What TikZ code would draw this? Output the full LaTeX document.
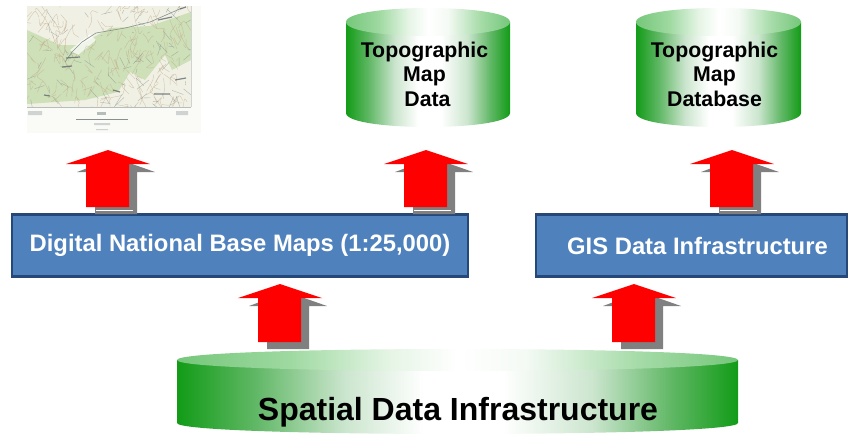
\documentclass[tikz,border=0pt]{standalone}
\usepackage{fontspec}
\setmainfont{Liberation Sans}
\definecolor{cylgreen}{RGB}{18,155,22}
\definecolor{cyltop}{RGB}{118,200,122}
\definecolor{boxblue}{RGB}{79,129,189}
\definecolor{boxedge}{RGB}{37,72,120}
\definecolor{shadowgray}{RGB}{128,128,128}
\definecolor{mapgreen}{RGB}{205,224,184}
\definecolor{mappale}{RGB}{240,241,228}
\definecolor{maptan}{RGB}{195,170,140}
\definecolor{mapgray}{RGB}{135,145,142}
\definecolor{mapdark}{RGB}{100,105,110}
\pgfdeclarehorizontalshading{cylbody}{100bp}{
  rgb(0bp)=(0.07,0.61,0.09); rgb(25bp)=(0.07,0.61,0.09);
  rgb(32bp)=(0.38,0.72,0.40); rgb(40bp)=(0.80,0.90,0.81);
  rgb(47bp)=(1,1,1); rgb(54bp)=(1,1,1);
  rgb(62bp)=(0.80,0.90,0.81); rgb(69bp)=(0.38,0.72,0.40);
  rgb(75bp)=(0.07,0.61,0.09); rgb(100bp)=(0.07,0.61,0.09)}
\pgfdeclarehorizontalshading{cyllid}{100bp}{
  rgb(0bp)=(0.46,0.78,0.48); rgb(25bp)=(0.46,0.78,0.48);
  rgb(35bp)=(0.62,0.85,0.63); rgb(44bp)=(0.90,0.96,0.90);
  rgb(50bp)=(1,1,1); rgb(56bp)=(0.96,0.98,0.96);
  rgb(66bp)=(0.65,0.86,0.66);
  rgb(75bp)=(0.46,0.78,0.48); rgb(100bp)=(0.46,0.78,0.48)}
\newcommand{\cylinder}[5]{% left right topcentre bottomcentre ry
  \shade[shading=cylbody]
    (#1,#3) -- (#1,#4) .. controls (#1,#4+1.333*#5) and (#2,#4+1.333*#5) .. (#2,#4) -- (#2,#3) -- cycle;
  \shade[shading=cyllid]
    (#1,#3) .. controls (#1,#3-1.333*#5) and (#2,#3-1.333*#5) .. (#2,#3)
    .. controls (#2,#3+1.333*#5) and (#1,#3+1.333*#5) .. (#1,#3) -- cycle;
}
\newcommand{\uparrowblock}[3]{% centre-x tip-y bottom-y
  \fill[shadowgray] (#1+7,#2+8) -- (#1+47,#2+22) -- (#1+29,#2+22) -- (#1+29,#3+7) -- (#1-13,#3+7) -- (#1-13,#2+22) -- (#1-31,#2+22) -- cycle;
  \fill[red] (#1,#2) -- (#1+42,#2+14) -- (#1+21,#2+14) -- (#1+21,#3) -- (#1-22,#3) -- (#1-22,#2+14) -- (#1-42,#2+14) -- cycle;
}
\newcommand{\gapline}[1]{\fill[white] (#1-12,210.4) rectangle (#1+25,211.4);}
\tikzset{
  cyltext/.style={font=\fontsize{21.3}{24.5}\selectfont\bfseries,align=center,text=black},
  boxshape/.style={draw=boxedge,line width=2.2pt,fill=boxblue,text=white,inner sep=0pt,
    font=\fontsize{23.8}{28}\selectfont\bfseries},
  maproad/.style={line width=0.4pt,mapgray,opacity=0.6},
  mapcontour/.style={line width=0.4pt,maptan,opacity=0.6},
  maptown/.style={line width=1.2pt,mapdark,opacity=0.8}
}
\begin{document}
\begin{tikzpicture}[x=1pt,y=-1pt]
\useasboundingbox (0,0) rectangle (852,434);
% map
\fill[mappale!35!white] (27,6) rectangle (201,133);
\begin{scope}
\clip (27,6) rectangle (191,107);
\fill[mappale] (27,6) rectangle (191,107);
\fill[mapgreen] (27,30) -- (60,45) -- (80,45) -- (110,28) -- (150,26) -- (191,12) -- (191,60) -- (172,70) -- (165,55) -- (145,80) -- (130,72) -- (118,92) -- (85,100) -- (27,104) -- cycle;
\fill[white,opacity=0.7] (70,50) -- (90,34) -- (96,40) -- (78,55) -- cycle;
\pgfmathsetseed{17}
\foreach \i in {1,...,180}{
  \pgfmathsetmacro{\ax}{27+rnd*164}\pgfmathsetmacro{\ay}{6+rnd*101}
  \pgfmathsetmacro{\bx}{\ax+rnd*16-8}\pgfmathsetmacro{\by}{\ay+rnd*24-12}
  \pgfmathsetmacro{\cx}{\bx+rnd*16-8}\pgfmathsetmacro{\cy}{\by+rnd*24-12}
  \draw[mapcontour] plot[smooth] coordinates {(\ax,\ay) (\bx,\by) (\cx,\cy)};
}
\foreach \i in {1,...,80}{
  \pgfmathsetmacro{\ax}{27+rnd*164}\pgfmathsetmacro{\ay}{6+rnd*101}
  \pgfmathsetmacro{\bx}{\ax+rnd*24-12}\pgfmathsetmacro{\by}{\ay+rnd*24-12}
  \draw[maproad] (\ax,\ay) -- (\bx,\by);
}
\draw[line width=0.6pt,mapgray] (65,62) -- (72,52) -- (82,42) -- (96,33) -- (125,28) -- (150,22) -- (182,8);
\draw[maptown] (158,20) -- (172,17) (180,9) -- (186,7);
\draw[maptown] (66,58) -- (80,57) (62,67) -- (72,66) (113,90) -- (120,92) (154,94) -- (170,94) (175,80) -- (186,78) (44,95) -- (50,96);
\end{scope}
\draw[mapgray!60,line width=0.5pt] (27,107.5) -- (191,107.5);
\draw[mapgray!40,line width=0.4pt] (191,6) -- (191,107);
\draw[mapgray,line width=0.4pt] (76,119) -- (128,119);
\fill[mapgray!60] (97,112) rectangle (106,115);
\fill[mapgray!40] (94,123) rectangle (110,125) (96,129) rectangle (108,130);
\fill[mapgray!40] (28,111) rectangle (42,115) (176,111) rectangle (188,115);
% cylinders
\cylinder{346}{510}{22}{113}{14}
\cylinder{636}{801}{22}{113}{14}
\cylinder{177}{738}{360}{423}{11}
% boxes
\node[boxshape,minimum width=456pt,minimum height=62pt] (base) at (240,245.5) {Digital National Base Maps (1:25,000)};
\node[boxshape,minimum width=311pt,minimum height=62pt] (gis) at (691.5,245.5) {\hspace*{12pt}GIS Data Infrastructure};
% block arrows
\uparrowblock{108}{150}{207}\gapline{108}
\uparrowblock{426}{150}{207}\gapline{426}
\uparrowblock{732}{150}{207}\gapline{732}
\uparrowblock{280}{284}{342}
\uparrowblock{634}{284}{342}
% labels
\node[cyltext] (topodata) at (424.5,74) {Topographic\\Map\\\ Data};
\node[cyltext] (topodb) at (714.5,74) {Topographic\\Map\\Database};
\node[font=\fontsize{32}{38}\selectfont\bfseries,text=black] (sdi) at (458,412) {Spatial Data Infrastructure};
\end{tikzpicture}
\end{document}
